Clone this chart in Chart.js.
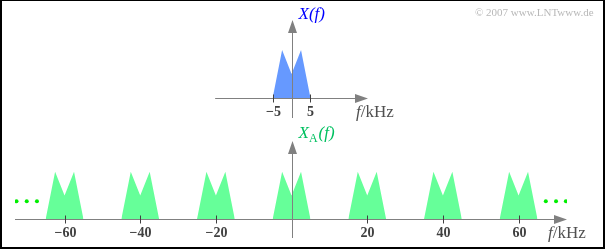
<!DOCTYPE html>
<html lang="de">
<head>
  <meta charset="UTF-8">
  <title>Spektrum vor und nach der Abtastung</title>
  <script src="https://cdn.jsdelivr.net/npm/chart.js"></script>
  <style>
    body { margin: 0; background: #fff; }
    #wrap { position: relative; width: 605px; height: 249px; }
    #wrap canvas { position: absolute; left: 0; }
    #frame { position: absolute; left: 0; top: 0; width: 605px; height: 249px; box-sizing: border-box;
             border: 2px solid #000; border-top-width: 1px; pointer-events: none; }
    #copy { position: absolute; left: 475px; top: 6px; font: 11px "Liberation Serif", serif; color: #b8b8b8; }
  </style>
</head>
<body>
  <div id="wrap">
    <canvas id="topChart" width="605" height="125" style="top:0"></canvas>
    <canvas id="bottomChart" width="605" height="124" style="top:125px"></canvas>
    <div id="copy">&copy; 2007 www.LNTwww.de</div>
    <div id="frame"></div>
  </div>

  <script>
    // spectrum X(f) of the band-limited signal, f in kHz
    const shapeF = [-5, -2.5, 0, 2.5, 5];
    const shapeX = [0, 1, 0.5, 1, 0];
    // periodic copies in X_A(f) (sampling rate 20 kHz)
    const copyCenters = [-60, -40, -20, 0, 20, 40, 60];
    // the "..." at both ends
    const dotsLeft = [-72.7, -70, -67.3];
    const dotsRight = [67.2, 69.9, 72.5];
    const dotLevel = 0.38;
    // tick labels
    const ticksTop = [-5, 5];
    const ticksBottom = [-60, -40, -20, 20, 40, 60];

    const fmt = v => (v < 0 ? '\u2212' + (-v) : String(v));

    // arrowed axes through the origin, drawn from the chart's own scales
    const axesPlugin = {
      id: 'axes',
      afterDatasetsDraw(chart, args, o) {
        const { ctx, scales: { x, y } } = chart;
        const x0 = x.getPixelForValue(o.xFrom);
        const x1 = x.getPixelForValue(o.xTo);
        const yb = Math.round(y.getPixelForValue(0)) + 0.5;
        const xc = Math.round(x.getPixelForValue(0)) + 0.5;
        const yTop = y.getPixelForValue(y.max);
        const yBot = y.getPixelForValue(y.min);
        ctx.save();
        ctx.strokeStyle = '#808080';
        ctx.fillStyle = '#808080';
        ctx.lineWidth = 1;
        ctx.beginPath();
        ctx.moveTo(x0, yb); ctx.lineTo(x1 - 10, yb);
        ctx.moveTo(xc, yBot); ctx.lineTo(xc, yTop + 10);
        ctx.stroke();
        // arrow heads
        ctx.beginPath();
        ctx.moveTo(x1, yb); ctx.lineTo(x1 - 13, yb - 4.5); ctx.lineTo(x1 - 13, yb + 4.5); ctx.closePath();
        ctx.moveTo(xc, yTop); ctx.lineTo(xc - 4.5, yTop + 13); ctx.lineTo(xc + 4.5, yTop + 13); ctx.closePath();
        ctx.fill();
        // ticks
        ctx.strokeStyle = '#404040';
        ctx.fillStyle = '#404040';
        ctx.font = 'bold 14px "Liberation Serif", serif';
        ctx.textAlign = 'center';
        ctx.textBaseline = 'middle';
        o.ticks.forEach(v => {
          const px = Math.round(x.getPixelForValue(v)) + 0.5;
          ctx.beginPath();
          ctx.moveTo(px, yb - 4); ctx.lineTo(px, yb + 4);
          ctx.stroke();
          ctx.fillText(fmt(v), px, yb + 14);
        });
        // unit label f/kHz
        ctx.fillStyle = '#505050';
        ctx.textAlign = 'left';
        let ux = x1 + o.unitDx;
        ctx.font = 'italic 17px "Liberation Serif", serif';
        ctx.fillText('f', ux, yb + 14);
        ux += ctx.measureText('f').width;
        ctx.font = '17px "Liberation Serif", serif';
        ctx.fillText('/kHz', ux, yb + 14);
        // title
        ctx.fillStyle = o.titleColor;
        let tx = xc + 6;
        const ty = yTop - o.titleDy;
        ctx.font = 'italic 17px "Liberation Serif", serif';
        ctx.fillText('X', tx, ty);
        tx += ctx.measureText('X').width;
        if (o.sub) {
          ctx.font = '12px "Liberation Serif", serif';
          ctx.fillText(o.sub, tx, ty + 5);
          tx += ctx.measureText(o.sub).width + 1;
          ctx.font = 'italic 17px "Liberation Serif", serif';
        }
        ctx.fillText('(f)', tx, ty);
        ctx.restore();
      }
    };

    function shapeAt(center) {
      return shapeF.map((f, i) => ({ x: center + f, y: shapeX[i] }));
    }

    function area(data, color) {
      return { type: 'line', data, fill: 'origin', backgroundColor: color,
               borderWidth: 0, pointRadius: 0, tension: 0 };
    }

    function baseOptions(pad, yMin, yMax, axes) {
      return {
        responsive: false,
        animation: false,
        devicePixelRatio: 1,
        layout: { padding: pad },
        scales: {
          x: { type: 'linear', min: -73.1, max: 72.8, display: false },
          y: { type: 'linear', min: yMin, max: yMax, display: false }
        },
        plugins: { legend: { display: false }, tooltip: { enabled: false }, axes }
      };
    }

    new Chart(document.getElementById('topChart'), {
      type: 'line',
      data: { datasets: [area(shapeAt(0), '#6699ff')] },
      options: baseOptions({ left: 15, right: 38, top: 20, bottom: 7 }, -0.4167, 1.625,
        { xFrom: -20.2, xTo: 20.2, ticks: ticksTop, unitDx: -12, titleColor: '#0000ff', titleDy: 5, sub: '' }),
      plugins: [axesPlugin]
    });

    const dotData = dotsLeft.concat(dotsRight).map(f => ({ x: f, y: dotLevel }));
    new Chart(document.getElementById('bottomChart'), {
      type: 'line',
      data: {
        datasets: copyCenters.map(c => area(shapeAt(c), '#66ff99')).concat([{
          type: 'scatter', data: dotData, showLine: false,
          pointRadius: 2, backgroundColor: '#00ee00', borderWidth: 0
        }])
      },
      options: baseOptions({ left: 15, right: 38, top: 16, bottom: 11 }, -0.393, 1.645,
        { xFrom: -73.1, xTo: 72.8, ticks: ticksBottom, unitDx: -19, titleColor: '#00c060', titleDy: 7, sub: 'A' }),
      plugins: [axesPlugin]
    });
  </script>
</body>
</html>
